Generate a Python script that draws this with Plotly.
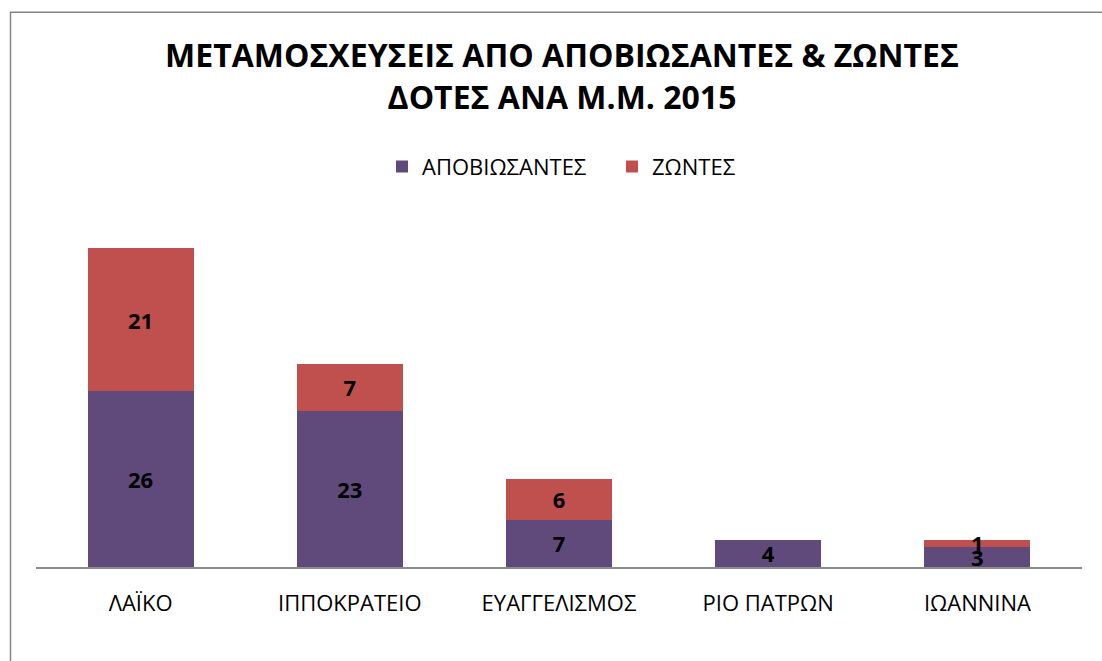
import plotly.graph_objects as go

categories = ["ΛΑΪΚΟ", "ΙΠΠΟΚΡΑΤΕΙΟ", "ΕΥΑΓΓΕΛΙΣΜΟΣ", "ΡΙΟ ΠΑΤΡΩΝ", "ΙΩΑΝΝΙΝΑ"]
deceased = [26, 23, 7, 4, 3]
living = [21, 7, 6, 0, 1]
series_names = ["ΑΠΟΒΙΩΣΑΝΤΕΣ", "ΖΩΝΤΕΣ"]
title_text = "ΜΕΤΑΜΟΣΧΕΥΣΕΙΣ ΑΠΟ ΑΠΟΒΙΩΣΑΝΤΕΣ & ΖΩΝΤΕΣ<br>ΔΟΤΕΣ ΑΝΑ Μ.Μ. 2015"

FONT = "Open Sans"

def labels(vals):
    return [str(v) if v else "" for v in vals]

fig = go.Figure()
fig.add_trace(go.Bar(
    x=categories, y=deceased, name=series_names[0],
    marker=dict(color="#604A7B", line=dict(width=0)),
    text=labels(deceased), textposition="inside", insidetextanchor="middle",
    textangle=0, constraintext="none",
    textfont=dict(family=FONT, size=22, color="black", weight="bold"),
))
fig.add_trace(go.Bar(
    x=categories, y=living, name=series_names[1],
    marker=dict(color="#C0504D", line=dict(width=0)),
    text=labels(living), textposition="inside", insidetextanchor="middle",
    textangle=0, constraintext="none",
    textfont=dict(family=FONT, size=22, color="black", weight="bold"),
))

W, H = 1102, 661
L, R, T, B = 36, 20, 227.5, 94
pw, ph = W - L - R, H - T - B

def px_x(x):
    return (x - L) / pw

def px_y(y):
    return (H - B - y) / ph

fig.update_layout(
    width=W, height=H,
    barmode="stack", bargap=0.493,
    margin=dict(l=L, r=R, t=T, b=B, autoexpand=False),
    paper_bgcolor="white", plot_bgcolor="white",
    font=dict(family=FONT, color="black"),
    title=dict(text=title_text, x=562 / W, xanchor="center",
               y=1 - 67 / H, yanchor="middle", yref="container",
               font=dict(family=FONT, size=32, color="black", weight="bold")),
    legend=dict(orientation="h", x=px_x(382), xanchor="left",
                y=px_y(166), yanchor="middle",
                font=dict(family=FONT, size=22, color="black"),
                itemsizing="constant", traceorder="normal", itemwidth=30,
                entrywidth=185, entrywidthmode="pixels"),
    showlegend=True,
    uniformtext=dict(minsize=22, mode="show"),
    xaxis=dict(showline=True, linecolor="#8C8C8C", linewidth=1.5,
               showgrid=False, ticks="", ticklabelstandoff=16,
               tickfont=dict(family=FONT, size=22, color="black"),
               fixedrange=True),
    yaxis=dict(visible=False, range=[0, 50], showgrid=False, fixedrange=True),
    shapes=[dict(type="rect", xref="paper", yref="paper",
                 x0=px_x(10.5), x1=1.2, y0=-0.6, y1=px_y(11.5),
                 line=dict(color="#868686", width=1.5), fillcolor="rgba(0,0,0,0)",
                 layer="below")],
)

fig.write_html("out.html", config={"displayModeBar": False},
               post_script="document.body.style.margin='0px';")
